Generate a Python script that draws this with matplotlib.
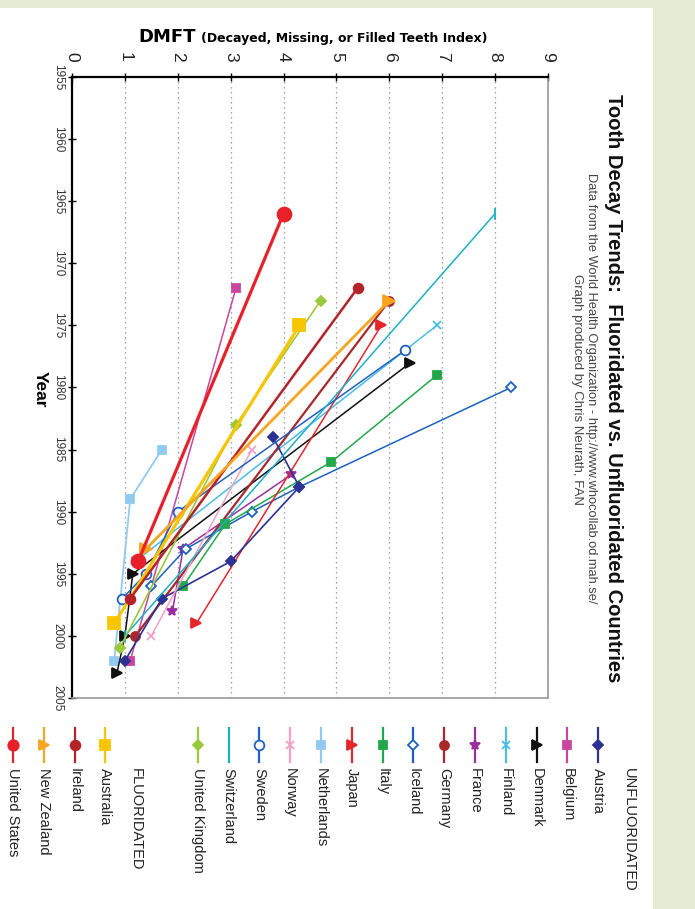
import matplotlib
matplotlib.use("Agg")
import matplotlib.pyplot as plt
from matplotlib.patches import Rectangle

plt.rcParams["font.family"] = ["Liberation Sans", "DejaVu Sans"]

# DATA: DMFT of 12 year olds by survey year
# UNFLUORIDATED
austria_yr = [1984, 1988, 1994, 1997, 2002]
austria_dmft = [3.8, 4.3, 3.0, 1.7, 1.0]
belgium_yr = [1972, 2002]
belgium_dmft = [3.1, 1.1]
denmark_yr = [1978, 1995, 2000, 2003]
denmark_dmft = [6.4, 1.15, 1.0, 0.85]
finland_yr = [1975, 1994]
finland_dmft = [6.9, 1.2]
france_yr = [1987, 1993, 1998]
france_dmft = [4.15, 2.1, 1.9]
germany_yr = [1973, 2000]
germany_dmft = [6.0, 1.2]
iceland_yr = [1980, 1988, 1990, 1993, 1996]
iceland_dmft = [8.3, 4.3, 3.4, 2.15, 1.5]
italy_yr = [1979, 1986, 1991, 1996]
italy_dmft = [6.9, 4.9, 2.9, 2.1]
japan_yr = [1975, 1999]
japan_dmft = [5.85, 2.35]
netherlands_yr = [1985, 1989, 2002]
netherlands_dmft = [1.7, 1.1, 0.8]
norway_yr = [1985, 2000]
norway_dmft = [3.4, 1.5]
sweden_yr = [1977, 1990, 1995, 1997]
sweden_dmft = [6.3, 2.0, 1.4, 0.95]
switzerland_yr = [1966, 2000]
switzerland_dmft = [8.0, 1.0]
uk_yr = [1973, 1983, 2001]
uk_dmft = [4.7, 3.1, 0.9]

# FLUORIDATED
australia_yr = [1975, 1999]
australia_dmft = [4.3, 0.8]
ireland_yr = [1972, 1997]
ireland_dmft = [5.4, 1.1]
nz_yr = [1973, 1993]
nz_dmft = [6.0, 1.4]
us_yr = [1966, 1994]
us_dmft = [4.0, 1.25]

dmft_ticks = list(range(0, 10))
year_ticks = list(range(1955, 2006, 5))

# name, years, values, colour, marker, marker size, line width, open marker, draw order
unfluoridated = [
    ("Austria", austria_yr, austria_dmft, "#2c3192", "D", 5, 1.2, False, 12),
    ("Belgium", belgium_yr, belgium_dmft, "#c8469e", "s", 5.5, 1.1, False, 4),
    ("Denmark", denmark_yr, denmark_dmft, "#111111", ">", 6.5, 1.1, False, 5),
    ("Finland", finland_yr, finland_dmft, "#4cbce6", "x", 6, 1.1, False, 6),
    ("France", france_yr, france_dmft, "#9a2f9e", "*", 7, 1.1, False, 7),
    ("Germany", germany_yr, germany_dmft, "#a8282c", "o", 6.5, 1.6, False, 8),
    ("Iceland", iceland_yr, iceland_dmft, "#1c60c0", "D", 5.5, 1.1, True, 9),
    ("Italy", italy_yr, italy_dmft, "#22a84a", "s", 6, 1.1, False, 10),
    ("Japan", japan_yr, japan_dmft, "#e5262c", ">", 7, 1.1, False, 11),
    ("Netherlands", netherlands_yr, netherlands_dmft, "#92caef", "s", 6, 1.3, False, 3),
    ("Norway", norway_yr, norway_dmft, "#f2a2c6", "x", 6, 1.1, False, 13),
    ("Sweden", sweden_yr, sweden_dmft, "#2060c0", "o", 7, 1.1, True, 14),
    ("Switzerland", switzerland_yr, switzerland_dmft, "#1eaec8", "|", 8, 1.1, False, 15),
    ("United Kingdom", uk_yr, uk_dmft, "#9cc83c", "D", 5.5, 1.2, False, 16),
]
fluoridated = [
    ("Australia", australia_yr, australia_dmft, "#f8c600", "s", 9, 2.3, False, 17),
    ("Ireland", ireland_yr, ireland_dmft, "#b4232a", "o", 7, 1.8, False, 18),
    ("New Zealand", nz_yr, nz_dmft, "#f6a520", ">", 9, 2.0, False, 19),
    ("United States", us_yr, us_dmft, "#e8202a", "o", 10, 2.3, False, 20),
]

W, H = 695, 909
fig = plt.figure(figsize=(W / 100, H / 100), dpi=100, facecolor="#e4ecd3")
fig.patches.append(Rectangle((0, 0), 653 / W, 901 / H, transform=fig.transFigure,
                             facecolor="white", edgecolor="none", zorder=-10))


def px(x, y):
    return x / W, 1 - y / H


# main plot, drawn already turned a quarter turn clockwise
ax = fig.add_axes([72 / W, 1 - 698 / H, 476 / W, 621 / H])
ax.set_xlim(0, 9)
ax.set_ylim(2005, 1955)

for name, yr, val, col, mk, ms, lw, hollow, z in unfluoridated + fluoridated:
    ax.plot(val, yr, color=col, lw=lw, marker=mk, ms=ms,
            mfc="white" if hollow else col, mec=col, mew=1.3, zorder=z)

ax.xaxis.tick_top()
ax.set_xticks(dmft_ticks)
ax.set_yticks(year_ticks)
ax.tick_params(axis="x", direction="inout", length=6, width=1, labelsize=12.5,
               pad=8, labelrotation=270, labelcolor="#222")
ax.tick_params(axis="y", direction="inout", length=6, width=1, labelsize=8.5,
               pad=3, labelrotation=270, labelcolor="#333")
plt.setp(ax.get_yticklabels(), va="center")
for s in ["top", "left"]:
    ax.spines[s].set_linewidth(1.6)
for s in ["bottom", "right"]:
    ax.spines[s].set_color("#999999")
    ax.spines[s].set_linewidth(1.2)
ax.xaxis.grid(True, linestyle=(0, (1, 3)), color="#888888", lw=0.9)
ax.set_axisbelow(True)

# axis titles
fig.text(*px(138, 42), "DMFT", family="DejaVu Sans", weight="bold", size=13, va="baseline")
fig.text(*px(201, 42), "(Decayed, Missing, or Filled Teeth Index)", family="DejaVu Sans",
         weight="bold", size=9, va="baseline")
fig.text(*px(40, 389), "Year", rotation=270, weight="bold", size=12.5, ha="center", va="center")

# title block on the right, centred on the plot
fig.text(*px(614, 388), "Tooth Decay Trends:  Fluoridated vs. Unfluoridated Countries",
         rotation=270, weight="bold", size=14.5, ha="center", va="center", color="#111")
fig.text(*px(591, 388), "Data from the World Health Organization - http://www.whocollab.od.mah.se/",
         rotation=270, size=9.3, ha="center", va="center", color="#444")
fig.text(*px(577, 390), "Graph produced by Chris Neurath, FAN",
         rotation=270, size=9.5, ha="center", va="center", color="#444")

# legend: one column per country, turned like the rest
lax = fig.add_axes([0, 0, 1, 1], zorder=-1)
lax.set_xlim(0, W)
lax.set_ylim(H, 0)
lax.axis("off")
step = 30.8


def legend_entry(slot, name, col, mk, ms, hollow):
    x = 13 + slot * step
    lax.plot([x, x], [728, 762], color=col, lw=1.6)
    lax.plot([x], [745], color=col, marker=mk, ms=ms, mfc="white" if hollow else col,
             mec=col, mew=1.3)
    lax.text(x, 768, name, rotation=270, ha="center", va="top", size=10.5, color="#222")


for i, (name, yr, val, col, mk, ms, lw, hollow, z) in enumerate(unfluoridated):
    legend_entry(19 - i, name, col, mk, min(ms, 7), hollow)
for i, (name, yr, val, col, mk, ms, lw, hollow, z) in enumerate(fluoridated):
    legend_entry(3 - i, name, col, mk, min(ms, 7.5), hollow)
lax.text(13 + 20 * step, 768, "UNFLUORIDATED", rotation=270, ha="center", va="top", size=10.5, color="#222")
lax.text(13 + 4 * step, 768, "FLUORIDATED", rotation=270, ha="center", va="top", size=10.5, color="#222")

fig.savefig("out.png", dpi=100, facecolor=fig.get_facecolor())
